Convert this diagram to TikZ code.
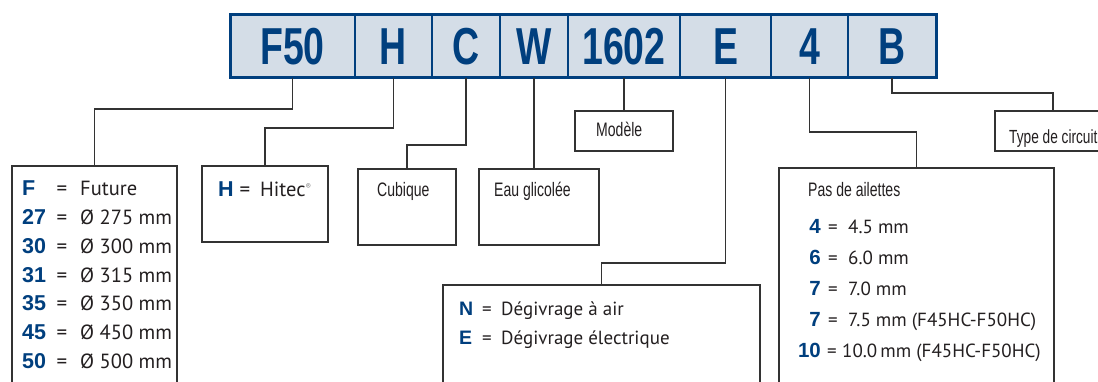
\documentclass[tikz,border=0pt]{standalone}
\usepackage{fontspec}
\setmainfont{PT Sans}
\newfontfamily\barfont[FakeStretch=0.72]{Liberation Sans Bold}
\newfontfamily\condfont[FakeStretch=0.72]{Liberation Sans}
\newfontfamily\numfont{Liberation Sans Bold}
\definecolor{barblue}{HTML}{003F7E}
\definecolor{barfill}{HTML}{D4DDE7}
\definecolor{linegray}{HTML}{333333}
\definecolor{textgray}{HTML}{231F20}
\begin{document}
\begin{tikzpicture}[x=1pt,y=-1pt,
  cell/.style={draw=barblue, line width=1.5pt, fill=barfill, inner sep=0pt, outer sep=0pt,
    minimum height=63pt, anchor=north west, text=barblue, font=\barfont\fontsize{52}{52}\selectfont},
  box/.style={draw=linegray, line width=1.3pt, fill=white, inner sep=0pt, outer sep=0pt, anchor=north west},
  conn/.style={draw=linegray, line width=1.2pt},
  val/.style={inner sep=0pt, anchor=base west, text=textgray, font=\fontsize{20.5}{20.5}\selectfont},
  sval/.style={inner sep=0pt, anchor=base west, text=textgray, font=\fontsize{19}{19}\selectfont},
  eq/.style={inner sep=0pt, anchor=base, text=textgray, font=\fontsize{21}{21}\selectfont},
  seq/.style={inner sep=0pt, anchor=base, text=textgray, font=\fontsize{19}{19}\selectfont},
  num/.style={inner sep=0pt, anchor=base west, text=barblue, font=\numfont\fontsize{21.5}{21.5}\selectfont},
  snum/.style={inner sep=0pt, anchor=base west, text=barblue, font=\numfont\fontsize{19.5}{19.5}\selectfont},
  snumr/.style={inner sep=0pt, anchor=base east, text=barblue, font=\numfont\fontsize{20.5}{20.5}\selectfont},
  cond/.style={inner sep=0pt, anchor=base west, text=textgray, font=\condfont\fontsize{19.5}{19.5}\selectfont}]
\useasboundingbox (0,0) rectangle (1098,382);
\clip (0,0) rectangle (1098,382);
% code bar
\node[cell, minimum width=125pt] (f50) at (230,15) {F50};
\node[cell, minimum width=77pt] (h) at (355,15) {H};
\node[cell, minimum width=68pt] (c) at (432,15) {C};
\node[cell, minimum width=68pt] (w) at (500,15) {W};
\node[cell, minimum width=112pt] (m) at (568,15) {1602};
\node[cell, minimum width=91pt] (e) at (680,15) {E};
\node[cell, minimum width=77pt] (p) at (771,15) {4};
\node[cell, minimum width=88pt] (b) at (848,15) {B};
\draw[barblue, line width=3pt] (f50.north west) rectangle (b.south east);
% boxes
\node[box, minimum width=165pt, minimum height=250pt] (bF) at (12,166) {};
\node[box, minimum width=126pt, minimum height=76pt] (bH) at (202,166) {};
\node[box, minimum width=98pt, minimum height=76pt] (bC) at (358,169) {};
\node[box, minimum width=120pt, minimum height=76pt] (bW) at (479,169) {};
\node[box, minimum width=98pt, minimum height=40pt] (bM) at (575,111) {};
\node[box, minimum width=317pt, minimum height=150pt] (bE) at (443,285) {};
\node[box, minimum width=275pt, minimum height=250pt] (bP) at (779,168) {};
\node[box, minimum width=116pt, minimum height=40pt] (bB) at (995,111) {};
% connectors
\draw[conn] (f50.south) -- ++(0,31) -| (bF.north);
\draw[conn] (h.south) -- ++(0,50) -| (bH.north);
\draw[conn] (c.south) -- ++(0,67) -| (bC.north);
\draw[conn] (w.south) -- (w.south |- bW.north);
\draw[conn, line width=2pt] (m.south) -- (bM.north);
\draw[conn] (e.south) -- ++(0,185) -| (bE.north);
\draw[conn] (p.south) -- ++(0,54) -| (bP.north);
\draw[conn] (b.south) -- ++(0,15) -| (bB.north);
% left box text
\foreach \k/\v [count=\i from 0] in {F/Future, 27/Ø 275 mm, 30/Ø 300 mm, 31/Ø 315 mm, 35/Ø 350 mm, 45/Ø 450 mm, 50/Ø 500 mm}{
  \node[num] (fk\i) at (22,{196+28.7*\i}) {\k};
  \node[eq] (fe\i) at (62,{196+28.7*\i}) {=};
  \node[val] (fv\i) at (80,{196+28.7*\i}) {\v};
}
% H box
\node[num] (hk) at (218,197) {H};
\node[eq] (he) at (245,197) {=};
\node[val] (hv) at (260,197) {Hitec\textsuperscript{\textcolor{gray}{\fontsize{8}{8}\selectfont ®}}};
% simple labels
\node[cond] (tc) at (377,197) {Cubique};
\node[cond] (tw) at (494,197) {Eau glicolée};
\node[cond] (tm) at (596,137) {Modèle};
\node[cond, font=\condfont\fontsize{19}{19}\selectfont] (tb) at (1009,144) {Type de circuit};
% E box
\node[snum] (ek1) at (459,316) {N};
\node[seq] (ee1) at (487,316) {=};
\node[sval] (ev1) at (501,316) {Dégivrage à air};
\node[snum] (ek2) at (459,344) {E};
\node[seq] (ee2) at (487,344) {=};
\node[sval] (ev2) at (501,344) {Dégivrage électrique};
% fin pitch box
\node[cond] (tp) at (808,196.7) {Pas de ailettes};
\foreach \k/\v [count=\i from 0] in {4/4.5 mm, 6/6.0 mm, 7/7.0 mm, 7/7.5 mm (F45HC-F50HC)}{
  \node[snumr] (pk\i) at (821,{233.5+31*\i}) {\k};
  \node[seq] (pe\i) at (833,{233.5+31*\i}) {=};
  \node[sval] (pv\i) at (848,{233.5+31*\i}) {\v};
}
\node[snumr] (pk4) at (821,357.5) {10};
\node[seq] (pe4) at (832,357.5) {=};
\node[sval] (pv4) at (842,357.5) {10.0\,mm (F45HC-F50HC)};
\end{tikzpicture}
\end{document}
